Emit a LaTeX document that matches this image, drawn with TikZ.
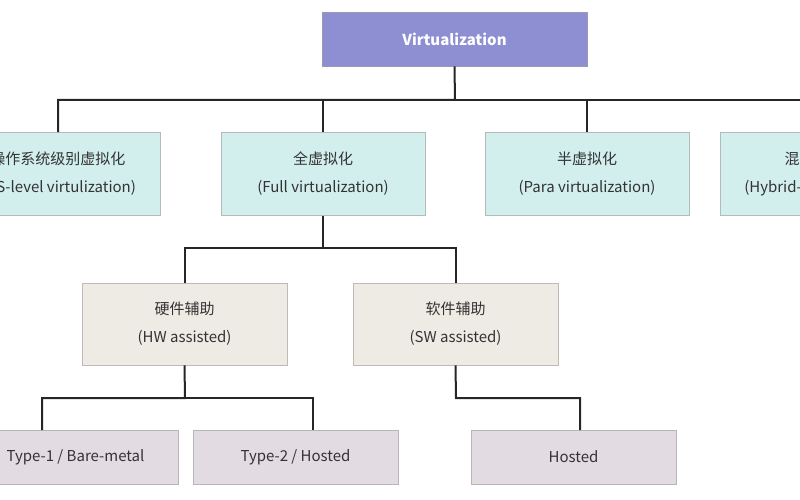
\documentclass[tikz,border=0pt]{standalone}
\usepackage{fontspec}
\setmainfont{Noto Sans CJK SC}
\begin{document}
\begin{tikzpicture}[x=1pt,y=-1pt,
  bx/.style={draw=#1!60!black!60, line width=0.8pt, minimum height=54pt, minimum width=205pt, inner sep=0pt, align=center, font=\fontsize{15}{28}\selectfont, text=black!80},
  ln/.style={draw=black!85, line width=2pt}]
\useasboundingbox (0,0) rectangle (800,500);
\clip (0,0) rectangle (800,500);
\definecolor{root}{HTML}{8E8ED2}
\definecolor{cy}{HTML}{D2EFEE}
\definecolor{bg}{HTML}{EEEBE4}
\definecolor{mv}{HTML}{E2DBE2}
\node[bx=root, fill=root, minimum width=265pt, text=white, font=\fontsize{15}{18}\selectfont\bfseries] (v) at (454.5,39) {Virtualization};
\node[bx=cy, fill=cy, minimum height=83pt, minimum width=204pt] (a) at (58,174) {操作系统级别虚拟化\\(OS-level virtulization)};
\node[bx=cy, fill=cy, minimum height=83pt, minimum width=204pt] (b) at (323,174) {全虚拟化\\(Full virtualization)};
\node[bx=cy, fill=cy, minimum height=83pt, minimum width=204pt] (c) at (587,174) {半虚拟化\\(Para virtualization)};
\node[bx=cy, fill=cy, minimum height=83pt, minimum width=204pt] (d) at (822,174) {混合虚拟化\\(Hybrid-Virtualization)};
\node[bx=bg, fill=bg, minimum height=82pt] (hw) at (184.5,324) {硬件辅助\\(HW assisted)};
\node[bx=bg, fill=bg, minimum height=82pt] (sw) at (455.5,324) {软件辅助\\(SW assisted)};
\node[bx=mv, fill=mv] (t1) at (75.5,457) {Type-1 / Bare-metal};
\node[bx=mv, fill=mv] (t2) at (295.5,457) {Type-2 / Hosted};
\node[bx=mv, fill=mv] (h) at (573.5,457) {Hosted};
\coordinate (t1c) at (42,430);
\coordinate (t2c) at (313,430);
\coordinate (hc) at (580,430);
\draw[ln] (v.south) -- (455,100) -| (a.north);
\draw[ln] (455,100) -| (b.north);
\draw[ln] (455,100) -| (c.north);
\draw[ln] (455,100) -| (d.north);
\draw[ln] (b.south) -- (323,248) -| (hw.north);
\draw[ln] (323,248) -| (sw.north);
\draw[ln] (hw.south) -- (185,398) -| (t1c);
\draw[ln] (185,398) -| (t2c);
\draw[ln] (sw.south) -- (456,398) -| (hc);
\end{tikzpicture}
\end{document}
